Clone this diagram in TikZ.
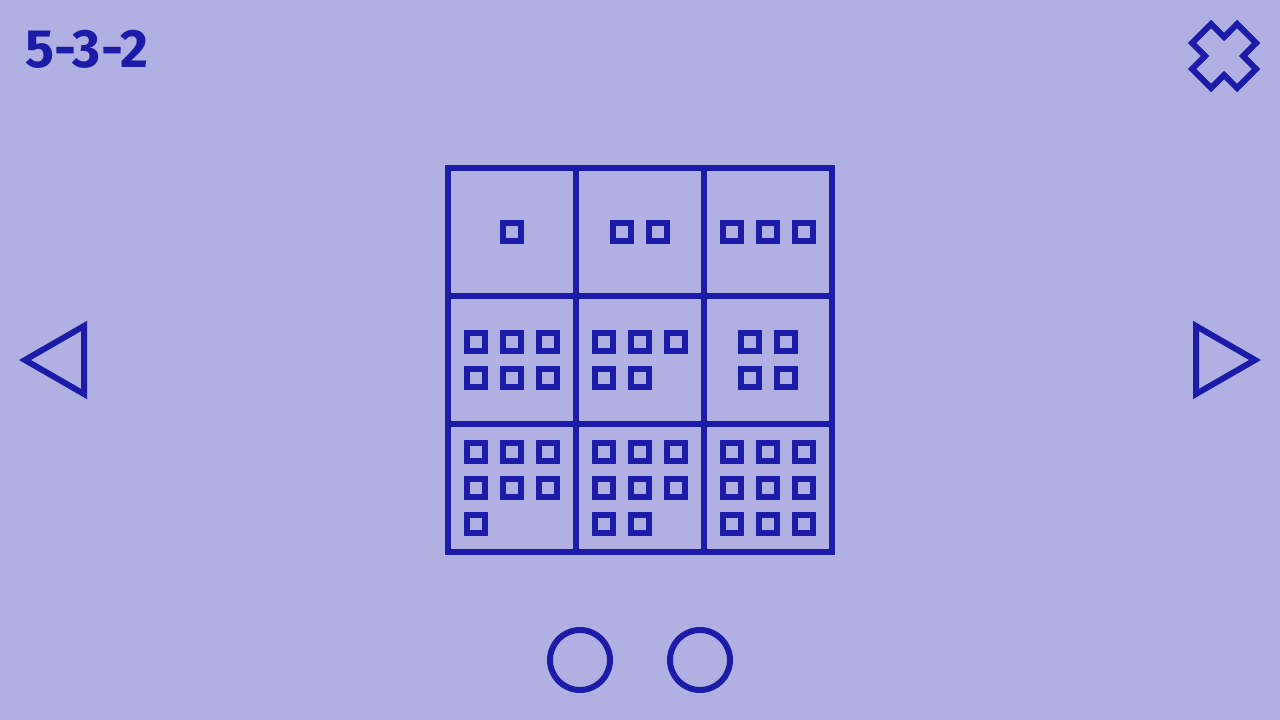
\documentclass[tikz,border=0pt]{standalone}
\usepackage{fontspec}
\newfontfamily\titlefont{Fira Sans}
\definecolor{bg}{RGB}{176,176,226}
\definecolor{ink}{RGB}{28,28,168}
\begin{document}
\begin{tikzpicture}[x=1pt,y=-1pt,
  ink/.style={draw=ink,line width=6pt},
  dot/.style={draw=ink,line width=6pt,minimum size=18pt,inner sep=0pt,outer sep=0pt,shape=rectangle}]
\fill[bg] (0,0) rectangle (1280,720);
\useasboundingbox (0,0) rectangle (1280,720);
% title
\node[anchor=base west,inner sep=0pt,text=ink,font=\titlefont\bfseries\fontsize{54}{60}\selectfont] (title) at (25,67) {5-3-2};
% close icon
\draw[ink] (1224,56) ++(0,-19) -- ++(13,-13) -- ++(19,19) -- ++(-13,13) -- ++(13,13) -- ++(-19,19) -- ++(-13,-13) -- ++(-13,13) -- ++(-19,-19) -- ++(13,-13) -- ++(-13,-13) -- ++(19,-19) -- cycle;
% arrows
\draw[ink] (84,326) -- (84,394) -- (25,360) -- cycle;
\draw[ink] (1196,326) -- (1196,394) -- (1255,360) -- cycle;
% circles
\draw[ink] (580,660) circle[radius=30];
\draw[ink] (700,660) circle[radius=30];
% grid
\draw[ink] (448,168) rectangle (832,552);
\draw[ink] (576,168) -- (576,552);
\draw[ink] (704,168) -- (704,552);
\draw[ink] (448,296) -- (832,296);
\draw[ink] (448,424) -- (832,424);
% dots
\foreach \x/\y in {512/232,
  622/232, 658/232,
  732/232, 768/232, 804/232,
  476/342, 512/342, 548/342, 476/378, 512/378, 548/378,
  604/342, 640/342, 676/342, 604/378, 640/378,
  750/342, 786/342, 750/378, 786/378,
  476/452, 512/452, 548/452, 476/488, 512/488, 548/488, 476/524,
  604/452, 640/452, 676/452, 604/488, 640/488, 676/488, 604/524, 640/524,
  732/452, 768/452, 804/452, 732/488, 768/488, 804/488, 732/524, 768/524, 804/524}
  \node[dot] (d-\x-\y) at (\x,\y) {};
\end{tikzpicture}
\end{document}
